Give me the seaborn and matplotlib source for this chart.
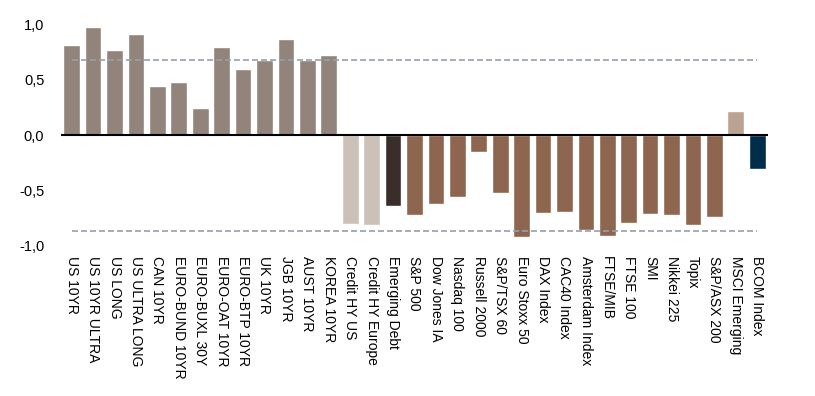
import numpy as np
import pandas as pd
import matplotlib
matplotlib.use("Agg")
import matplotlib.pyplot as plt
import seaborn as sns

# Values
bonds = ["US 10YR", "US 10YR ULTRA", "US LONG", "US ULTRA LONG", "CAN 10YR",
         "EURO-BUND 10YR", "EURO-BUXL 30Y", "EURO-OAT 10YR", "EURO-BTP 10YR",
         "UK 10YR", "JGB 10YR", "AUST 10YR", "KOREA 10YR"]
bond_vals = [0.815, 0.98, 0.77, 0.915, 0.443, 0.48, 0.243, 0.797, 0.597,
             0.68, 0.87, 0.68, 0.725]

credit = ["Credit HY US", "Credit HY Europe"]
credit_vals = [-0.81, -0.82]

em_debt = ["Emerging Debt"]
em_debt_vals = [-0.645]

equities = ["S&P 500", "Dow Jones IA", "Nasdaq 100", "Russell 2000", "S&P/TSX 60",
            "Euro Stoxx 50", "DAX Index", "CAC40 Index", "Amsterdam Index",
            "FTSE/MIB", "FTSE 100", "SMI", "Nikkei 225", "Topix", "S&P/ASX 200"]
equity_vals = [-0.73, -0.63, -0.56, -0.15, -0.53, -0.93, -0.71, -0.695, -0.865,
               -0.92, -0.795, -0.72, -0.73, -0.82, -0.74]

em_eq = ["MSCI Emerging"]
em_eq_vals = [0.215]

commod = ["BCOM Index"]
commod_vals = [-0.31]

upper_band = 0.68
lower_band = -0.87

colors = {
    "bonds": "#92847A",
    "credit": "#CCC1B9",
    "em_debt": "#3A2E2B",
    "equities": "#8E654E",
    "em_eq": "#BBA293",
    "commod": "#002D4A",
}

groups = [("bonds", bonds, bond_vals), ("credit", credit, credit_vals),
          ("em_debt", em_debt, em_debt_vals), ("equities", equities, equity_vals),
          ("em_eq", em_eq, em_eq_vals), ("commod", commod, commod_vals)]

rows = []
for g, names, vals in groups:
    for n, v in zip(names, vals):
        rows.append({"asset": n, "value": v, "group": g})
df = pd.DataFrame(rows)

sns.set_style("white")
plt.rcParams["font.family"] = ["Liberation Sans", "DejaVu Sans"]

fig = plt.figure(figsize=(8.15, 3.96), dpi=100)
ax = fig.add_axes([0.0748, 0.381, 0.8675, 0.556])

sns.barplot(data=df, x="asset", y="value", hue="group", palette=colors,
            order=df["asset"], dodge=False, width=0.78, legend=False,
            saturation=1, ax=ax)

n = len(df)
ax.set_xlim(-0.5, n - 0.5)
ax.set_ylim(-1.0, 1.0)
ax.axhline(0, color="black", lw=1.5, zorder=3)
for yv in (upper_band, lower_band):
    ax.hlines(yv, 0, n - 1, colors="#96A0AC", lw=1.2, linestyles=(0, (3.6, 1.8)),
              zorder=4)

ax.set_yticks([-1.0, -0.5, 0.0, 0.5, 1.0])
ax.set_yticklabels(["-1,0", "-0,5", "0,0", "0,5", "1,0"])
ax.tick_params(axis="y", length=0, pad=12, labelsize=10.5, labelcolor="black")
ax.tick_params(axis="x", length=0, pad=8, labelsize=10, labelrotation=-90,
               labelcolor="black")
for lbl in ax.get_xticklabels():
    lbl.set_va("top")
    lbl.set_ha("center")
ax.set_xlabel("")
ax.set_ylabel("")
sns.despine(ax=ax, left=True, bottom=True)

fig.savefig("out.png", dpi=100)
